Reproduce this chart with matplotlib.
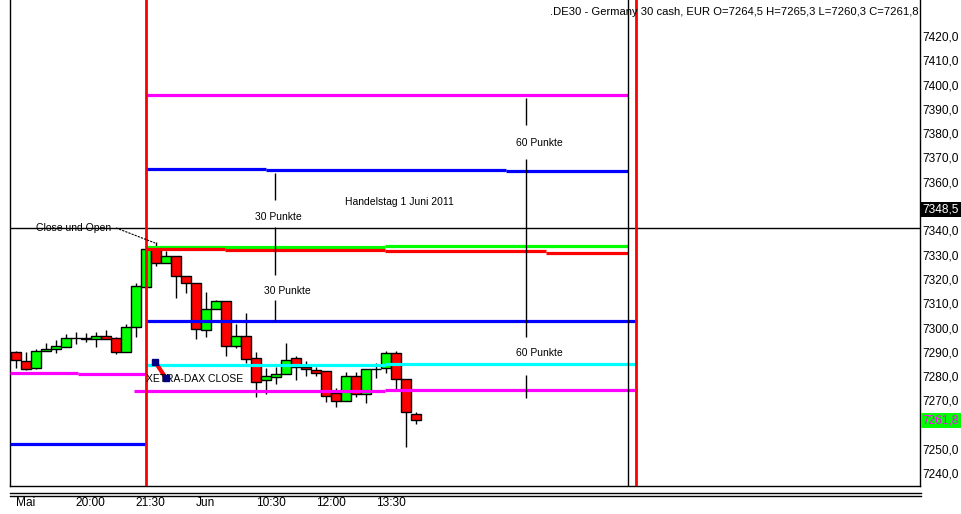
import matplotlib
matplotlib.use("Agg")
import matplotlib.pyplot as plt
from matplotlib.patches import Rectangle
from matplotlib.lines import Line2D

# 15 min Kerzen, 31.05. 18:30 bis 01.06. 14:30
opens = [7290.0, 7286.3, 7283.4, 7290.4, 7291.1, 7292.1, 7295.5, 7295.1, 7295.2, 7296.4,
         7295.6, 7289.8, 7300.1, 7316.6, 7332.2, 7326.5, 7329.5, 7321.2, 7318.2, 7299.0,
         7307.5, 7311.0, 7292.4, 7296.6, 7287.4, 7278.4, 7279.8, 7280.9, 7287.4, 7283.9,
         7282.6, 7282.0, 7273.0, 7269.9, 7280.1, 7272.7, 7282.8, 7283.3, 7289.4, 7278.7,
         7264.5]
highs = [7290.4, 7290.0, 7291.2, 7293.7, 7295.0, 7297.2, 7298.2, 7297.7, 7298.1, 7299.0,
         7296.0, 7301.5, 7318.2, 7332.6, 7335.4, 7331.6, 7329.5, 7321.2, 7318.2, 7314.8,
         7311.4, 7311.0, 7301.5, 7305.9, 7290.1, 7283.3, 7283.9, 7293.5, 7288.3, 7286.4,
         7283.9, 7282.0, 7275.0, 7281.9, 7281.9, 7282.8, 7285.3, 7290.5, 7290.5, 7278.7,
         7265.3]
lows = [7283.4, 7282.6, 7282.8, 7290.4, 7289.7, 7292.1, 7293.3, 7294.1, 7292.1, 7295.4,
        7289.0, 7289.8, 7296.3, 7316.6, 7325.4, 7326.5, 7312.1, 7314.1, 7295.4, 7296.3,
        7307.5, 7288.3, 7291.6, 7285.3, 7271.6, 7272.6, 7276.8, 7280.9, 7278.4, 7280.1,
        7280.1, 7269.5, 7267.5, 7269.9, 7271.3, 7269.1, 7279.1, 7281.2, 7274.6, 7251.0,
        7260.3]
closes = [7286.7, 7282.8, 7290.4, 7291.2, 7292.4, 7295.6, 7295.9, 7295.5, 7296.4, 7295.4,
          7289.8, 7300.1, 7317.0, 7332.2, 7326.5, 7329.5, 7321.2, 7318.2, 7299.3, 7307.5,
          7311.0, 7292.4, 7296.6, 7287.0, 7277.7, 7280.1, 7280.9, 7286.7, 7283.9, 7282.8,
          7281.4, 7271.9, 7269.9, 7280.1, 7272.7, 7282.8, 7283.1, 7289.4, 7278.7, 7265.1,
          7261.8]

time_ticks = [0, 6, 12, 18, 24, 30, 36]
time_labels = ['Mai', '20:00', '21:30', 'Jun', '10:30', '12:00', '13:30']
# 7350 und 7260 werden von den Kursboxen verdeckt
price_ticks = [7240, 7250, 7270, 7280, 7290, 7300, 7310, 7320, 7330, 7340,
               7360, 7370, 7380, 7390, 7400, 7410, 7420]

# Linien: (von, bis, Kurs)
magenta_levels = [(13.03, 61.23, 7395.7), (11.83, 36.93, 7273.9), (36.93, 62.13, 7274.2),
                  (-0.57, 6.23, 7281.3), (6.23, 13.03, 7280.8)]
blue_levels = [(13.03, 25.03, 7365.1), (25.03, 49.03, 7364.7), (49.03, 61.23, 7364.3),
               (13.03, 62.13, 7302.7), (-0.57, 13.03, 7252.0)]
green_levels = [(13.03, 36.93, 7333.0), (36.93, 61.23, 7333.4)]
red_levels = [(13.03, 20.93, 7332.3), (20.93, 36.93, 7331.8), (36.93, 53.03, 7331.4),
              (53.03, 61.23, 7330.8)]
cyan_levels = [(13.03, 36.93, 7284.7), (36.93, 62.13, 7285.1)]

session_lines = [13.03, 62.03]
end_line = 61.23
cross_price = 7341.0
cross_label = 7348.5
last_price = 7261.8

# Abstandsmarken (x, von, bis)
mark_30 = [(25.93, 7363.6, 7352.5), (25.93, 7341.4, 7321.6), (25.93, 7311.4, 7302.7)]
mark_60 = [(51.03, 7394.5, 7383.4), (51.03, 7369.4, 7296.1), (51.03, 7280.5, 7271.0)]

xetra_x = [13.93, 14.98]
xetra_y = [7286.0, 7279.4]

W, H = 962, 514
fig = plt.figure(figsize=(W / 100, H / 100), dpi=100)
ax = fig.add_axes([10 / W, 28 / H, 910 / W, 486 / H])
ax.set_xlim(-0.57, 90.43)
ax.set_ylim(7234.8, 7434.8)

fnt = 'Liberation Sans'
fs = 7.5
fs_ax = 8.6

# Kerzen
for i in range(len(opens)):
    o, h, l, c = opens[i], highs[i], lows[i], closes[i]
    col = '#00ff00' if c >= o else '#ff0000'
    ax.vlines(i, l, h, color='k', lw=1, zorder=2)
    ax.add_patch(Rectangle((i - 0.5, min(o, c)), 1.0, max(abs(c - o), 0.25),
                           facecolor=col, edgecolor='k', lw=1, zorder=3))

lw = 2.3
for levels, col in [(magenta_levels, '#ff00ff'), (blue_levels, '#0000ff'),
                    (green_levels, '#00ff00'), (red_levels, '#ff0000'),
                    (cyan_levels, '#00ffff')]:
    for x0, x1, p in levels:
        ax.hlines(p, x0, x1, color=col, lw=lw, zorder=4)

ax.axhline(cross_price, color='k', lw=1, zorder=5)
ax.axvline(end_line, color='k', lw=1, zorder=5)
for x in session_lines:
    ax.axvline(x, color='#ff0000', lw=2, zorder=6)

for x, y0, y1 in mark_30 + mark_60:
    ax.vlines(x, y1, y0, color='k', lw=1, zorder=5)

ax.text(26.28, 7345.5, '30 Punkte', fontsize=fs, family=fnt, ha='center', va='center')
ax.text(27.18, 7315.1, '30 Punkte', fontsize=fs, family=fnt, ha='center', va='center')
ax.text(52.33, 7376.0, '60 Punkte', fontsize=fs, family=fnt, ha='center', va='center')
ax.text(52.33, 7289.4, '60 Punkte', fontsize=fs, family=fnt, ha='center', va='center')
ax.text(38.38, 7351.7, 'Handelstag 1 Juni 2011', fontsize=fs, family=fnt,
        ha='center', va='center')

ax.text(5.83, cross_price, 'Close und Open', fontsize=fs, family=fnt, ha='center',
        va='center', color='k', zorder=6)
ax.plot([10.03, 13.93], [cross_price, 7334.8], color='k', lw=0.8, ls=(0, (2, 1)), zorder=6)

ax.plot(xetra_x, xetra_y, color='#ff0000', lw=3, zorder=7, solid_capstyle='butt')
ax.plot(xetra_x, xetra_y, ls='none', marker='s', ms=5, color='#000080', zorder=8)
ax.text(13.03, 7278.8, 'XETRA-DAX CLOSE', fontsize=fs, family=fnt, ha='left',
        va='center', zorder=7)

# Achsen
ax.spines['top'].set_visible(False)
for s in ['left', 'right', 'bottom']:
    ax.spines[s].set_linewidth(1)
ax.yaxis.tick_right()
ax.set_yticks(price_ticks)
ax.set_yticklabels([f'{p:.1f}'.replace('.', ',') for p in price_ticks],
                   fontsize=fs_ax, family=fnt)
ax.tick_params(axis='y', length=0, pad=2)
ax.set_xticks(time_ticks)
ax.set_xticklabels(time_labels, fontsize=fs_ax, family=fnt, ha='left')
ax.tick_params(axis='x', length=0, pad=8)

ax.annotate(f'{cross_label:.1f}'.replace('.', ','), xy=(1, cross_label),
            xycoords=('axes fraction', 'data'), xytext=(2, 0), textcoords='offset points',
            fontsize=fs_ax, family=fnt, color='white', va='center', ha='left',
            bbox=dict(boxstyle='square,pad=0.12', fc='black', ec='none'))
ax.annotate(f'{last_price:.1f}'.replace('.', ','), xy=(1, last_price),
            xycoords=('axes fraction', 'data'), xytext=(2, 0), textcoords='offset points',
            fontsize=fs_ax, family=fnt, color='#ff00ff', va='center', ha='left',
            bbox=dict(boxstyle='square,pad=0.12', fc='#00ff00', ec='none'))

fig.text(919 / W, 1 - 12 / H,
         '.DE30 - Germany 30 cash, EUR O=7264,5 H=7265,3 L=7260,3 C=7261,8',
         fontsize=8.1, family=fnt, ha='right', va='center')

for yy in [493, 496]:
    fig.add_artist(Line2D([10 / W, 921 / W], [1 - yy / H] * 2, color='k', lw=1))

fig.savefig('out.png', dpi=100)
